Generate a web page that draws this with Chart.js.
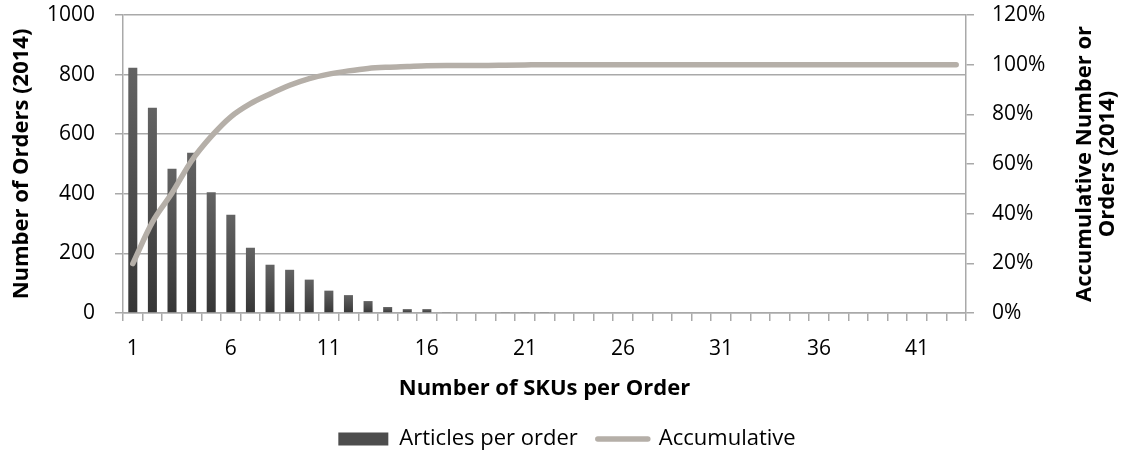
<!DOCTYPE html>
<html>
<head>
<meta charset="utf-8">
<script src="https://cdn.jsdelivr.net/npm/chart.js@4.4.1/dist/chart.umd.min.js"></script>
<style>
  html, body { margin: 0; padding: 0; background: #ffffff; }
  #wrap { width: 1134px; height: 451px; }
</style>
</head>
<body>
<div id="wrap"><canvas id="c" width="1134" height="451"></canvas></div>
<script>
// Number of SKUs in an order (x categories)
const skuCounts = ['1','2','3','4','5','6','7','8','9','10','11','12','13','14','15','16','17','18','19','20','21','22','23','24','25','26','27','28','29','30','31','32','33','34','35','36','37','38','39','40','41','42','43'];

// Orders placed in 2014 with that many SKUs
const ordersPerSkuCount = [823, 689, 484, 538, 405, 330, 219, 162, 145, 112, 75, 60, 40, 20, 13, 13, 3, 0, 0, 3, 3, 3, 0, 0, 0, 0, 0, 0, 0, 0, 0, 0, 0, 0, 0, 0, 0, 0, 0, 0, 0, 0, 0];

// Accumulative share of orders (fraction of all 2014 orders)
const accumulativeShare = [0.199, 0.366, 0.483, 0.613, 0.711, 0.790, 0.843, 0.882, 0.917, 0.944, 0.962, 0.975, 0.985, 0.990, 0.993, 0.996, 0.997, 0.997, 0.997, 0.998, 0.999, 1.0, 1.0, 1.0, 1.0, 1.0, 1.0, 1.0, 1.0, 1.0, 1.0, 1.0, 1.0, 1.0, 1.0, 1.0, 1.0, 1.0, 1.0, 1.0, 1.0, 1.0, 1.0];

const leftAxisTitle = 'Number of Orders (2014)';
const rightAxisTitle = ['Accumulative Number or', 'Orders (2014)'];
const xAxisTitle = 'Number of SKUs per Order';

const FONT = 'Open Sans';
const AXIS_GREY = '#a9a9a9';
const LINE_COLOR = '#b5afa8';

Chart.defaults.font.family = FONT;
Chart.defaults.color = '#000000';

// Per-bar vertical gradient: lighter at the top, darker at the base
function barGradient(ctx) {
  const chart = ctx.chart;
  if (!chart.chartArea || ctx.type !== 'data') return '#4a4a4a';
  const y = chart.scales.y;
  const top = y.getPixelForValue(ctx.raw);
  const base = y.getPixelForValue(0);
  if (!isFinite(top) || base - top < 1) return '#4a4a4a';
  const g = chart.ctx.createLinearGradient(0, top, 0, base);
  g.addColorStop(0, '#636363');
  g.addColorStop(1, '#363636');
  return g;
}

// Vertical axes: fixed width, and no extra room reserved above/below the plot
function fitVertical(width) {
  return scale => {
    scale.width = width;
    scale.paddingTop = 0;
    scale.paddingBottom = 0;
  };
}

// Right-hand axis title, reading bottom to top like the left one
const rightTitlePlugin = {
  id: 'rightTitle',
  afterDraw(chart) {
    const ctx = chart.ctx;
    const area = chart.chartArea;
    const scale = chart.scales.y1;
    ctx.save();
    ctx.font = 'bold 22px "' + FONT + '"';
    ctx.fillStyle = '#000000';
    ctx.textAlign = 'center';
    ctx.textBaseline = 'middle';
    ctx.translate(scale.right - 38, (area.top + area.bottom) / 2);
    ctx.rotate(-Math.PI / 2);
    ctx.fillText(rightAxisTitle[0], 0, -11);
    ctx.fillText(rightAxisTitle[1], 0, 12);
    ctx.restore();
  }
};

new Chart(document.getElementById('c'), {
  data: {
    labels: skuCounts,
    datasets: [
      {
        type: 'bar',
        label: 'Articles per order',
        data: ordersPerSkuCount,
        yAxisID: 'y',
        backgroundColor: barGradient,
        borderWidth: 0,
        barPercentage: 0.46,
        categoryPercentage: 1.0,
        order: 2
      },
      {
        type: 'line',
        label: 'Accumulative',
        data: accumulativeShare,
        yAxisID: 'y1',
        borderColor: LINE_COLOR,
        backgroundColor: LINE_COLOR,
        borderWidth: 5.5,
        borderCapStyle: 'round',
        borderJoinStyle: 'round',
        pointRadius: 0,
        pointHoverRadius: 0,
        cubicInterpolationMode: 'monotone',
        fill: false,
        order: 1
      }
    ]
  },
  options: {
    responsive: false,
    animation: false,
    events: [],
    layout: { padding: { top: 15, left: 0, right: 0, bottom: -9 } },
    plugins: {
      tooltip: { enabled: false },
      legend: {
        position: 'bottom',
        labels: {
          usePointStyle: true,
          pointStyleWidth: 50,
          boxHeight: 13,
          padding: 20,
          font: { size: 22 },
          color: '#000000',
          sort: (a, b) => a.datasetIndex - b.datasetIndex,
          generateLabels(chart) {
            const items = Chart.defaults.plugins.legend.labels.generateLabels(chart);
            items.forEach(it => {
              if (it.datasetIndex === 0) {
                it.pointStyle = 'rect';
                it.fillStyle = '#4d4d4d';
                it.strokeStyle = '#4d4d4d';
                it.lineWidth = 0;
              } else {
                it.pointStyle = 'line';
                it.strokeStyle = LINE_COLOR;
                it.lineWidth = 5.5;
                it.lineCap = 'round';
              }
            });
            return items;
          }
        }
      }
    },
    scales: {
      x: {
        offset: true,
        grid: {
          display: true,
          drawOnChartArea: false,
          offset: true,
          tickLength: 8,
          color: AXIS_GREY,
          lineWidth: 1.5
        },
        border: { color: AXIS_GREY, width: 1.5 },
        ticks: {
          autoSkip: false,
          maxRotation: 0,
          padding: 15,
          font: { size: 21 },
          color: '#000000',
          callback(value, index) {
            return index % 5 === 0 ? this.getLabelForValue(value) : '';
          }
        },
        title: {
          display: true,
          text: xAxisTitle,
          font: { size: 22, weight: 'bold' },
          color: '#000000',
          padding: { top: 4, bottom: 6 }
        },
        afterFit(scale) { scale.height = 95; }
      },
      y: {
        position: 'left',
        min: 0,
        max: 1000,
        grid: { color: AXIS_GREY, lineWidth: 1.5, tickLength: 8 },
        border: { color: AXIS_GREY, width: 1.5 },
        ticks: {
          stepSize: 200,
          padding: 20,
          font: { size: 21 },
          color: '#000000',
          callback: v => String(v)
        },
        title: {
          display: true,
          text: leftAxisTitle,
          font: { size: 22, weight: 'bold' },
          color: '#000000',
          padding: { top: 9, bottom: 9 }
        },
        afterFit: fitVertical(123)
      },
      y1: {
        position: 'right',
        min: 0,
        max: 1.2,
        grid: { drawOnChartArea: false, color: AXIS_GREY, lineWidth: 1.5, tickLength: 8 },
        border: { color: AXIS_GREY, width: 1.5 },
        ticks: {
          stepSize: 0.2,
          padding: 18,
          font: { size: 21 },
          color: '#000000',
          callback: v => Math.round(v * 100) + '%'
        },
        afterFit: fitVertical(168)
      }
    }
  },
  plugins: [rightTitlePlugin]
});
</script>
</body>
</html>
